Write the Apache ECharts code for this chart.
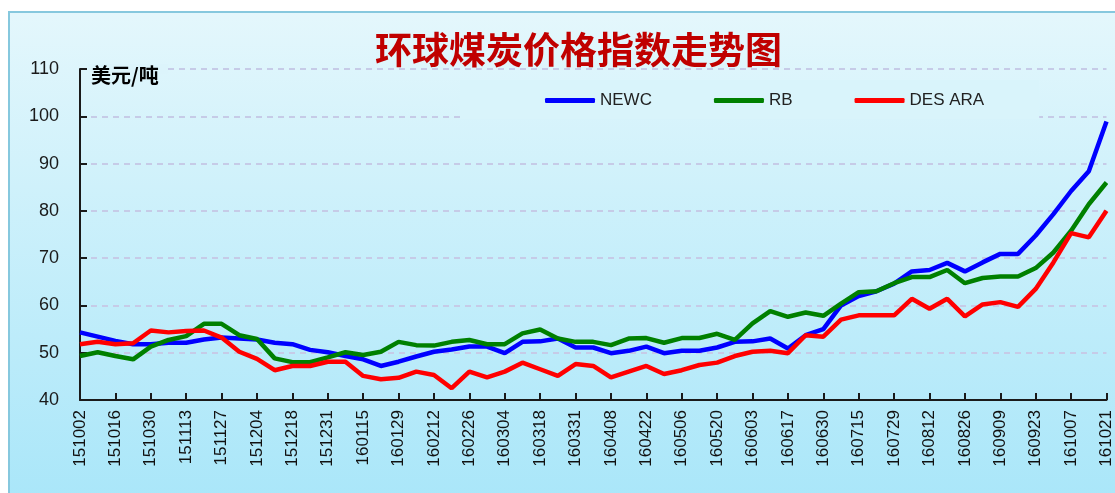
<!DOCTYPE html>
<html>
<head>
<meta charset="UTF-8">
<title>环球煤炭价格指数走势图</title>
<script type="text/javascript" src="https://cdn.jsdelivr.net/npm/echarts@6/dist/echarts.min.js"></script>
<style>
html, body { margin: 0; padding: 0; background: #fff; }
#main { width: 1115px; height: 493px; }
</style>
</head>
<body>
<div id="main"></div>
<script type="text/javascript">
// weekly dates, only every other one is labelled on the axis
var dates = [
	'151002','151009','151016','151023','151030','151106','151113','151120','151127','151201',
	'151204','151211','151218','151225','151231','160108','160115','160122','160129','160205',
	'160212','160219','160226','160301','160304','160311','160318','160325','160331','160401',
	'160408','160415','160422','160429','160506','160513','160520','160527','160603','160610',
	'160617','160624','160630','160708','160715','160722','160729','160805','160812','160819',
	'160826','160902','160909','160916','160923','160930','161007','161014','161021'
];
var newc = [
	54.3, 53.4, 52.5, 51.8, 51.8, 52.1, 52.1, 52.8, 53.2, 53.0,
	52.8, 52.1, 51.8, 50.6, 50.1, 49.3, 48.6, 47.2, 48.1, 49.2,
	50.2, 50.7, 51.3, 51.3, 49.9, 52.3, 52.4, 53.0, 51.1, 51.1,
	49.9, 50.4, 51.3, 49.9, 50.4, 50.4, 51.1, 52.3, 52.4, 53.0,
	50.9, 53.7, 55.0, 60.0, 62.0, 63.0, 64.6, 67.2, 67.5, 69.0,
	67.2, 69.1, 70.9, 70.9, 74.8, 79.3, 84.2, 88.4, 98.9
];
var rb = [
	49.3, 50.1, 49.3, 48.6, 51.3, 52.7, 53.5, 56.1, 56.1, 53.7,
	52.9, 48.8, 48.0, 48.0, 49.0, 50.1, 49.5, 50.2, 52.3, 51.6,
	51.5, 52.3, 52.7, 51.8, 51.8, 54.1, 54.9, 53.0, 52.3, 52.3,
	51.6, 53.0, 53.1, 52.1, 53.1, 53.1, 54.0, 52.7, 56.2, 58.8,
	57.6, 58.5, 57.8, 60.4, 62.8, 63.0, 64.7, 66.0, 66.0, 67.5,
	64.7, 65.8, 66.1, 66.1, 67.9, 71.2, 75.8, 81.4, 86.0
];
var desAra = [
	51.8, 52.3, 51.8, 52.0, 54.7, 54.3, 54.6, 54.7, 53.2, 50.2,
	48.7, 46.3, 47.2, 47.2, 48.1, 48.1, 45.1, 44.4, 44.7, 46.0,
	45.3, 42.5, 46.0, 44.8, 46.0, 47.9, 46.5, 45.1, 47.6, 47.2,
	44.8, 46.0, 47.2, 45.5, 46.3, 47.4, 47.9, 49.3, 50.2, 50.4,
	49.9, 53.7, 53.4, 57.0, 57.9, 57.9, 57.9, 61.4, 59.3, 61.4,
	57.7, 60.2, 60.7, 59.7, 63.5, 69.1, 75.3, 74.4, 80.0
];
var seriesNames = ['NEWC', 'RB', 'DES ARA'];
var seriesColors = ['#0000ff', '#008000', '#ff0000'];

var myChart = echarts.init(document.getElementById('main'));

var fontLatin = '"Liberation Sans", Arial, sans-serif';
var fontCjk = '"Noto Sans CJK SC", sans-serif';

function mkLine(name, data, color) {
	return {
		name: name,
		type: 'line',
		data: data,
		symbol: 'none',
		lineStyle: { width: 4.5, color: color },
		itemStyle: { color: color },
		z: 3
	};
}

var option = {
	animation: false,
	backgroundColor: '#ffffff',
	graphic: [
		{
			type: 'rect',
			z: -100,
			silent: true,
			shape: { x: 9, y: 12, width: 1120, height: 500 },
			style: {
				fill: new echarts.graphic.LinearGradient(0, 0, 0, 1, [
					{ offset: 0, color: '#e4f7fc' },
					{ offset: 1, color: '#a8e6f9' }
				]),
				stroke: '#86c8de',
				lineWidth: 2
			}
		},
		{
			// hides the top grid line behind the unit label
			type: 'rect',
			z: 5,
			silent: true,
			shape: { x: 88, y: 64, width: 80, height: 10 },
			style: { fill: '#dcf4fb' }
		},
		{
			type: 'text',
			z: 6,
			left: 91,
			top: 65,
			style: {
				text: '美元/吨',
				font: 'bold 20px "Noto Sans CJK SC", sans-serif',
				fill: '#000'
			}
		}
	],
	title: {
		text: '环球煤炭价格指数走势图',
		left: 370,
		top: 26,
		textStyle: {
			color: '#c00000',
			fontSize: 37,
			fontWeight: 'bold',
			fontFamily: fontCjk
		}
	},
	legend: {
		data: seriesNames,
		left: 460,
		top: 80,
		padding: [12, 55, 10, 85],
		backgroundColor: '#d9f4fb',
		icon: 'roundRect',
		itemWidth: 50,
		itemHeight: 5,
		itemGap: 62,
		textStyle: { fontSize: 17, color: '#222', fontFamily: fontLatin }
	},
	grid: {
		left: 80,
		right: 7,
		top: 69,
		bottom: 93,
		containLabel: false
	},
	xAxis: {
		type: 'category',
		data: dates,
		boundaryGap: false,
		axisLine: { lineStyle: { color: '#1a1a1a', width: 2 } },
		axisTick: { inside: true, length: 7, interval: 1, lineStyle: { color: '#1a1a1a', width: 2 } },
		axisLabel: {
			interval: 1,
			rotate: 90,
			margin: 10,
			fontSize: 17,
			color: '#111',
			fontFamily: fontLatin
		},
		splitLine: { show: false }
	},
	yAxis: {
		type: 'value',
		min: 40,
		max: 110,
		interval: 10,
		axisLine: { show: true, lineStyle: { color: '#1a1a1a', width: 2 } },
		axisTick: { show: true, inside: true, length: 7, lineStyle: { color: '#1a1a1a', width: 2 } },
		axisLabel: {
			margin: 21,
			fontSize: 18,
			color: '#1a1a1a',
			fontFamily: fontLatin
		},
		splitLine: {
			show: true,
			lineStyle: { color: '#c6cbe7', width: 2, type: [6, 5] }
		}
	},
	series: [
		mkLine(seriesNames[0], newc, seriesColors[0]),
		mkLine(seriesNames[1], rb, seriesColors[1]),
		mkLine(seriesNames[2], desAra, seriesColors[2])
	]
};
myChart.setOption(option);
</script>
</body>
</html>
